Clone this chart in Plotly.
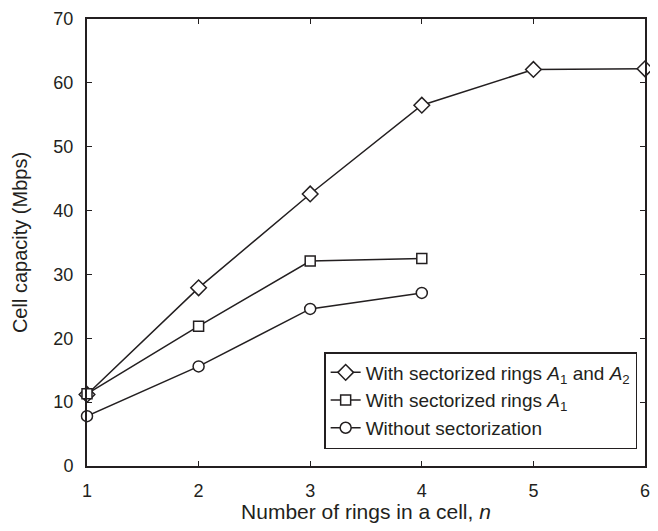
import plotly.graph_objects as go

rings = [1, 2, 3, 4, 5, 6]
cap_a1_a2 = [11.2, 27.9, 42.6, 56.5, 62.1, 62.2]
rings_a1 = [1, 2, 3, 4]
cap_a1 = [11.3, 21.9, 32.1, 32.5]
rings_none = [1, 2, 3, 4]
cap_none = [7.8, 15.6, 24.6, 27.1]

names = ["With sectorized rings <i>A</i><sub>1</sub> and <i>A</i><sub>2</sub>",
         "With sectorized rings <i>A</i><sub>1</sub>",
         "Without sectorization"]

ink = "#231f20"
fig = go.Figure()
for xs, ys, nm, sym, sz in [
    (rings, cap_a1_a2, names[0], "diamond", 12),
    (rings_a1, cap_a1, names[1], "square", 10),
    (rings_none, cap_none, names[2], "circle", 11),
]:
    fig.add_trace(go.Scatter(
        x=xs, y=ys, name=nm, mode="lines+markers",
        line=dict(color=ink, width=1.5),
        marker=dict(symbol=sym, size=sz, color="white", line=dict(color=ink, width=1.5)),
        cliponaxis=False,
    ))

# page body adds an 8px offset, so the figure is sized to fit inside the window
fig.update_layout(
    width=643, height=515,
    margin=dict(l=79, r=6, t=11, b=57),
    plot_bgcolor="white", paper_bgcolor="white",
    font=dict(family="Liberation Sans, Arial, sans-serif", size=17, color=ink),
    showlegend=True,
    legend=dict(x=0.425, y=0.038, xanchor="left", yanchor="bottom",
                bordercolor=ink, borderwidth=1.5, bgcolor="white",
                font=dict(size=19), tracegroupgap=0, itemwidth=30),
)
fig.update_xaxes(range=[1, 6], tickvals=[1, 2, 3, 4, 5, 6],
                 showline=True, linecolor=ink, linewidth=2, mirror="ticks",
                 ticks="inside", ticklen=5, tickcolor=ink, tickwidth=1,
                 showgrid=False, zeroline=False, automargin=False,
                 tickfont=dict(size=18), ticklabelstandoff=7, ticklabeloverflow="allow",
                 title=dict(text="Number of rings in a cell, <i>n</i>", font=dict(size=21), standoff=5))
fig.update_yaxes(range=[0, 70], tickvals=[0, 10, 20, 30, 40, 50, 60, 70],
                 showline=True, linecolor=ink, linewidth=2, mirror="ticks",
                 ticks="inside", ticklen=5, tickcolor=ink, tickwidth=1,
                 showgrid=False, zeroline=False, automargin=False,
                 tickfont=dict(size=18), ticklabelstandoff=8,
                 title=dict(text="Cell capacity (Mbps)", font=dict(size=20), standoff=20))
fig.write_html("out.html")
